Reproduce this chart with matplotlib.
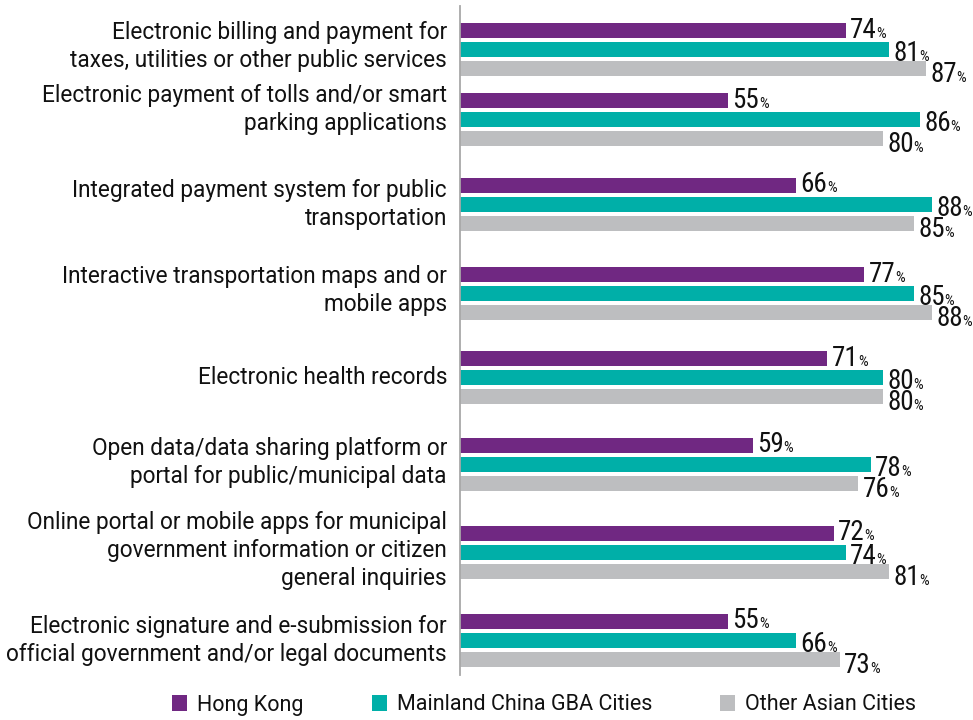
import matplotlib
matplotlib.use('Agg')
import matplotlib.pyplot as plt
from matplotlib import font_manager
from matplotlib.patches import Patch

# data
categories = [
    'Electronic billing and payment for\ntaxes, utilities or other public services',
    'Electronic payment of tolls and/or smart\nparking applications',
    'Integrated payment system for public\ntransportation',
    'Interactive transportation maps and or\nmobile apps',
    'Electronic health records',
    'Open data/data sharing platform or\nportal for public/municipal data',
    'Online portal or mobile apps for municipal\ngovernment information or citizen\ngeneral inquiries',
    'Electronic signature and e-submission for\nofficial government and/or legal documents',
]
series_names = ['Hong Kong', 'Mainland China GBA Cities', 'Other Asian Cities']
hong_kong = [74, 55, 66, 77, 71, 59, 72, 55]
mainland_gba = [81, 86, 88, 85, 80, 78, 74, 66]
other_asian = [87, 80, 85, 88, 80, 76, 81, 73]

colors = ['#702882', '#00AFA8', '#BDBEC0']


def pick_font():
    # the original uses a narrow grotesque; take the closest thing installed
    fonts = font_manager.fontManager.ttflist
    names = {f.name for f in fonts}
    for fam in ['Liberation Sans Narrow', 'Roboto Condensed',
                'Open Sans Condensed', 'Noto Sans Condensed', 'Arial Narrow']:
        if fam in names:
            return fam, 'normal'
    narrow = ('condensed', 'semi-condensed', 'extra-condensed')
    for fam in ['Roboto', 'Noto Sans', 'Open Sans', 'DejaVu Sans']:
        if any(f.name == fam and str(f.stretch) in narrow for f in fonts):
            return fam, 'condensed'
    return 'Roboto', 'normal'


family, stretch = pick_font()
plt.rcParams['font.family'] = [family, 'DejaVu Sans']
plt.rcParams['font.stretch'] = stretch
plt.rcParams['text.color'] = '#111111'
# wider face for the running text
text_font = {'family': ['Roboto', 'DejaVu Sans'], 'stretch': 'normal'}

W, H, DPI = 973, 720, 100
fig = plt.figure(figsize=(W / DPI, H / DPI), dpi=DPI)

# axes laid out in pixel terms: y data units == pixels from top
ax_left, ax_right, ax_top, ax_bottom = 459.5, 973, 6, 675
ax = fig.add_axes([ax_left / W, 1 - ax_bottom / H,
                   (ax_right - ax_left) / W, (ax_bottom - ax_top) / H])
ax.set_ylim(ax_bottom, ax_top)
ax.set_xlim(11.53, 94.55)

group_y = [49.5, 119.5, 204.5, 293.5, 377.5, 464.5, 552.5, 640.5]
label_nudge = [-3, -10, 0, -3, 0, -2, -2, 0]
offsets = [-19, 0, 19]
value_dy = [-2.5, 2, 4]   # value labels fan out a little, as in the original
bar_h = 15

all_series = [hong_kong, mainland_gba, other_asian]
for vals, off, vdy, col, name in zip(all_series, offsets, value_dy, colors,
                                     series_names):
    ys = [g + off for g in group_y]
    ax.barh(ys, vals, height=bar_h, color=col, label=name, left=0)
    for y, v in zip(ys, vals):
        base = y + 9.5 + vdy
        num = ax.annotate(str(v), xy=(v, base), xytext=(3, 0),
                          textcoords='offset points', ha='left',
                          va='baseline', fontsize=19.5)
        ax.annotate('%', xy=(1, base), xycoords=(num, 'data'),
                    xytext=(-0.3, 0), textcoords='offset points',
                    ha='left', va='baseline', fontsize=11)

for g, dy, cat in zip(group_y, label_nudge, categories):
    ax.annotate(cat, xy=(0, g + dy), xycoords=('axes fraction', 'data'),
                xytext=(-9, 0), textcoords='offset points',
                ha='right', va='center', multialignment='right',
                fontsize=16.3, linespacing=1.26, **text_font)

for s in ['top', 'right', 'bottom']:
    ax.spines[s].set_visible(False)
ax.spines['left'].set_color('#A8A8A8')
ax.spines['left'].set_linewidth(1.3)
ax.set_xticks([])
ax.set_yticks([])

handles = [Patch(facecolor=c, edgecolor='none') for c in colors]
fig.legend(handles, series_names, loc='center left',
           bbox_to_anchor=(172 / W, 1 - 705 / H), ncol=3, frameon=False,
           prop=dict(size=15.5, **text_font), handlelength=0.70,
           handleheight=0.70, handletextpad=0.47, columnspacing=3.16,
           borderpad=0, borderaxespad=0)

fig.savefig('out.png', dpi=DPI)
